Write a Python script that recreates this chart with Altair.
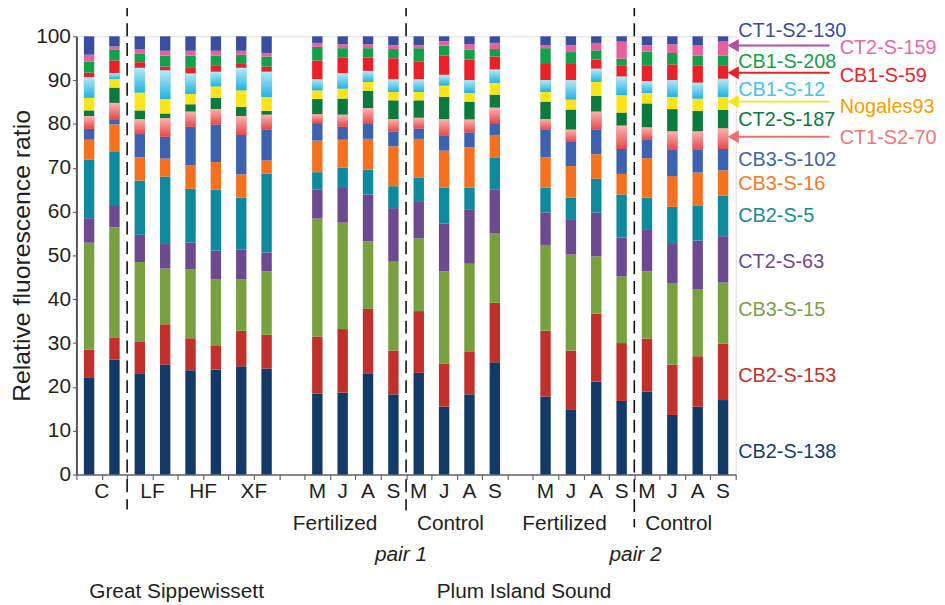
import altair as alt
import pandas as pd

# ---------------- data ----------------
taxa = ["CB2-S-138", "CB2-S-153", "CB3-S-15", "CT2-S-63", "CB2-S-5", "CB3-S-16",
        "CB3-S-102", "CT1-S2-70", "CT2-S-187", "Nogales93", "CB1-S-12", "CB1-S-59",
        "CB1-S-208", "CT2-S-159", "CT1-S2-130"]
colors = ["#133a66", "#c0312c", "#77a03e", "#6d4a8f", "#0f899d", "#f3711f",
          "#3c62b0", "#f07070", "#0b7a3c", "#fbe51a", "#3fc0e8", "#ea2128",
          "#12a04b", "#e9609f", "#3a4ea1"]
label_colors = ["#15406c", "#c0312c", "#79a043", "#6e4a91", "#138a9c", "#f47a2c",
                "#3e63ae", "#f07878", "#0b7a3c", "#f5a000", "#45c3ea", "#e9242b",
                "#16a04a", "#ea69a8", "#3b4da0"]

bar_ids = ["GS-C-1", "GS-C-2", "GS-LF-1", "GS-LF-2", "GS-HF-1", "GS-HF-2", "GS-XF-1", "GS-XF-2",
           "P1-F-M", "P1-F-J", "P1-F-A", "P1-F-S", "P1-C-M", "P1-C-J", "P1-C-A", "P1-C-S",
           "P2-F-M", "P2-F-J", "P2-F-A", "P2-F-S", "P2-C-M", "P2-C-J", "P2-C-A", "P2-C-S"]
x_order = bar_ids[:8] + ["gap-1"] + bar_ids[8:16] + ["gap-2"] + bar_ids[16:]

CB2_S_138 = [22.2, 26.2, 23.1, 25.1, 23.8, 24.0, 24.7, 24.2, 18.5, 18.7, 23.1, 18.3, 23.2, 15.5, 18.3, 25.6, 17.8, 14.9, 21.2, 16.8, 18.9, 13.6, 15.5, 17.0]
CB2_S_153 = [6.3, 5.1, 7.3, 9.2, 7.3, 5.5, 8.1, 7.7, 13.0, 14.5, 14.7, 10.0, 14.1, 9.8, 9.8, 13.6, 15.0, 13.4, 15.5, 13.2, 12.1, 11.5, 11.5, 12.9]
CB3_S_15 = [24.4, 25.1, 18.1, 12.7, 15.7, 15.1, 11.8, 14.5, 26.9, 24.3, 15.4, 20.3, 16.6, 21.1, 20.0, 15.9, 19.6, 21.9, 13.1, 15.2, 15.4, 18.6, 15.2, 13.9]
CT2_S_63 = [5.6, 5.1, 6.2, 5.6, 6.1, 6.5, 6.7, 4.3, 6.7, 8.1, 10.7, 12.2, 8.5, 10.9, 12.3, 10.0, 7.4, 7.9, 10.0, 8.9, 9.6, 8.9, 11.2, 10.6]
CB2_S_5 = [13.4, 12.1, 12.4, 15.4, 12.3, 13.9, 11.9, 18.0, 3.9, 4.4, 5.7, 5.0, 5.3, 8.2, 5.1, 7.3, 5.7, 5.1, 7.7, 9.8, 7.2, 8.5, 7.9, 9.2]
CB3_S_16 = [4.5, 6.3, 5.3, 4.1, 5.4, 6.3, 5.3, 3.0, 7.2, 6.4, 7.0, 9.1, 8.9, 8.4, 9.2, 5.1, 6.9, 7.2, 5.6, 4.7, 9.0, 7.0, 7.6, 5.8]
CB3_S_102 = [2.5, 1.2, 5.3, 5.0, 8.8, 8.6, 9.0, 7.1, 4.0, 3.0, 3.4, 3.4, 2.4, 3.4, 3.4, 2.7, 6.3, 5.5, 5.6, 5.7, 4.2, 6.0, 5.2, 4.9]
CT1_S2_70 = [2.9, 3.7, 3.4, 4.2, 3.4, 3.5, 4.3, 3.3, 2.0, 2.7, 3.6, 2.8, 2.4, 3.8, 2.9, 3.5, 2.4, 2.8, 4.1, 5.3, 2.8, 4.2, 4.2, 4.7]
CT2_S_187 = [1.3, 3.5, 2.0, 1.1, 1.7, 2.6, 2.1, 0.9, 3.5, 3.7, 4.0, 4.3, 4.0, 5.1, 4.1, 3.0, 4.0, 4.6, 3.6, 3.0, 5.5, 5.1, 4.7, 4.2]
Nogales93 = [2.9, 2.0, 4.1, 3.3, 2.4, 2.6, 3.8, 3.2, 2.0, 2.3, 2.0, 1.9, 1.9, 2.6, 2.0, 2.7, 2.2, 2.3, 3.2, 4.0, 2.4, 2.8, 2.8, 3.0]
CB1_S_12 = [4.7, 1.3, 5.6, 6.5, 4.6, 3.3, 5.1, 5.7, 2.5, 3.5, 2.5, 2.9, 2.9, 2.4, 2.9, 3.0, 2.7, 4.4, 3.0, 4.2, 2.7, 3.8, 3.6, 4.1]
CB1_S_59 = [1.0, 2.9, 1.3, 0.9, 1.3, 1.5, 0.9, 1.2, 4.3, 3.5, 3.1, 4.8, 4.1, 4.4, 4.7, 3.0, 3.9, 3.7, 2.1, 2.6, 3.6, 3.6, 4.0, 3.1]
CB1_S_208 = [2.5, 2.4, 1.9, 2.5, 2.8, 2.2, 2.1, 2.3, 3.1, 2.2, 2.1, 2.1, 3.0, 2.3, 2.3, 1.7, 3.4, 2.7, 2.1, 1.5, 3.1, 2.6, 2.2, 2.2]
CT2_S_159 = [1.6, 0.8, 1.0, 1.1, 1.1, 1.1, 0.9, 0.8, 0.9, 0.9, 0.9, 0.9, 0.7, 1.0, 1.2, 1.4, 0.7, 1.6, 1.7, 3.9, 1.5, 2.0, 2.3, 3.2]
CT1_S2_130 = [4.2, 2.3, 3.0, 3.3, 3.3, 3.3, 3.3, 3.8, 1.5, 1.8, 1.8, 2.0, 2.0, 1.1, 1.8, 1.5, 2.0, 2.0, 1.5, 1.2, 2.0, 1.8, 2.1, 1.2]

series = [CB2_S_138, CB2_S_153, CB3_S_15, CT2_S_63, CB2_S_5, CB3_S_16, CB3_S_102,
          CT1_S2_70, CT2_S_187, Nogales93, CB1_S_12, CB1_S_59, CB1_S_208, CT2_S_159, CT1_S2_130]

# tick labels under bars
tick_text = ["C", "LF", "HF", "XF", "M", "J", "A", "S", "M", "J", "A", "S",
             "M", "J", "A", "S", "M", "J", "A", "S"]
tick_pos = [1.0, 3.0, 5.0, 7.0] + [x_order.index(b) + 0.5 for b in bar_ids[8:]]
group_text = ["Fertilized", "Control", "Fertilized", "Control"]
group_pos = [10.2, 14.75, 19.25, 23.75]
pair_text = ["pair 1", "pair 2"]
pair_pos = [12.8, 22.05]
site_text = ["Great Sippewissett", "Plum Island Sound"]
site_pos = [3.95, 17.65]

# right-hand key
key_y = [5.2, 22.4, 37.6, 48.4, 59.0, 66.4, 71.7, 76.8, 80.9, 83.9, 87.7, 91.0, 94.1, 97.3, 101.3]
arrow_taxa = ["CT2-S-159", "CB1-S-59", "Nogales93", "CT1-S2-70"]
arrow_y = [97.9, 91.7, 85.1, 77.1]
arrow_colors = ["#b54f9f", "#e8202a", "#f3e516", "#f07070"]

divider_x = [2, 13, 22]
divider_bottom = [-8, -8.2, -12]

# ---------------- tables ----------------
rows = []
for i, (t, vals) in enumerate(zip(taxa, series)):
    for b, v in zip(bar_ids, vals):
        rows.append({"bar": b, "slot": x_order.index(b) + 0.5, "taxon": t, "order": i, "value": v})
df = pd.DataFrame(rows)

XS = alt.Scale(domain=[0, 26], nice=False, zero=False, padding=0)
YS = alt.Scale(domain=[0, 100], nice=False, zero=False, padding=0)
FONT = "Liberation Sans"
INK = "#231f20"

XAX = alt.Axis(values=list(range(27)), labels=False, title=None,
               tickSize=5, tickColor="#666", tickWidth=1.2,
               domainColor="#666", domainWidth=1.5, grid=False)
YAX = alt.Axis(values=list(range(0, 101, 10)), title="Relative fluorescence ratio",
               titleFontSize=25, titleFont=FONT, titleFontWeight="normal",
               titleColor=INK, titlePadding=1,
               labelFontSize=21, labelFont=FONT, labelColor=INK,
               labelPadding=2, tickSize=4, tickColor="#555",
               domainColor="#555", domainWidth=2, grid=False)


def X(field):
    return alt.X(field, scale=XS, axis=XAX)


def Y(field):
    return alt.Y(field, scale=YS, axis=YAX)


base = alt.Chart(df).transform_stack(
    stack="value", groupby=["bar"], as_=["y0", "y1"],
    sort=[alt.SortField("order", order="ascending")]
)

bars = base.mark_bar(width=10.5, orient="vertical").encode(
    x=X("slot:Q"), y=Y("y0:Q"), y2="y1:Q",
    color=alt.Color("taxon:N", scale=alt.Scale(domain=taxa, range=colors), legend=None),
)


def grad_layer(name, top, bottom):
    return base.transform_filter(alt.datum.taxon == name).mark_bar(
        width=10.5, orient="vertical",
        color=alt.Gradient(gradient="linear",
                           stops=[alt.GradientStop(color=top, offset=0),
                                  alt.GradientStop(color=bottom, offset=1)],
                           x1=0, x2=0, y1=0, y2=1)
    ).encode(x=X("slot:Q"), y=Y("y0:Q"), y2="y1:Q")


salmon = grad_layer("CT1-S2-70", "#f8b4b0", "#e8484a")
cyan = grad_layer("CB1-S-12", "#b6e9f7", "#22b2e2")

div_df = pd.DataFrame({"x": divider_x, "top": [107.5] * 3, "bottom": divider_bottom})
dividers = alt.Chart(div_df).mark_rule(color="#111", strokeWidth=1.6, strokeDash=[13, 7]).encode(
    x=X("x:Q"), y=Y("top:Q"), y2="bottom:Q")


def text_layer(texts, xs, yval, size=21, italic=False, color=INK):
    d = pd.DataFrame({"t": texts, "x": xs, "y": [yval] * len(texts)})
    return alt.Chart(d).mark_text(font=FONT, fontSize=size, color=color, baseline="middle",
                                  align="center", fontStyle="italic" if italic else "normal").encode(
        x=X("x:Q"), y=Y("y:Q"), text="t:N")


ticks_t = text_layer(tick_text, tick_pos, -4.1)
groups_t = text_layer(group_text, group_pos, -11.3)
pairs_t = text_layer(pair_text, pair_pos, -18.3, italic=True)
sites_t = text_layer(site_text, site_pos, -26.7)

key_df = pd.DataFrame({"taxon": taxa, "y": key_y, "c": label_colors,
                       "x": [30.1 if t in arrow_taxa else 26.1 for t in taxa]})
key = alt.Chart(key_df).mark_text(font=FONT, fontSize=20, align="left", baseline="middle").encode(
    x=X("x:Q"), y=Y("y:Q"), text="taxon:N", color=alt.Color("c:N", scale=None))

arr_df = pd.DataFrame({"taxon": arrow_taxa, "y": arrow_y, "c": arrow_colors,
                       "x1": [26.1] * 4, "x2": [29.7] * 4, "hx": [25.9] * 4})
arrow_lines = alt.Chart(arr_df).mark_rule(strokeWidth=2).encode(
    x=X("x1:Q"), x2="x2:Q", y=Y("y:Q"), color=alt.Color("c:N", scale=None))
arrow_heads = alt.Chart(arr_df).mark_point(shape="triangle-left", filled=True, size=170, opacity=1).encode(
    x=X("hx:Q"), y=Y("y:Q"), color=alt.Color("c:N", scale=None))

chart = alt.layer(bars, salmon, cyan, dividers, ticks_t, groups_t, pairs_t, sites_t,
                  key, arrow_lines, arrow_heads).properties(
    width=665, height=442,
    autosize=alt.AutoSizeParams(type="none"),
    padding={"left": 69, "top": 26, "right": 203, "bottom": 129},
).configure_view(strokeWidth=0).configure(background="white")

chart.save("out.html", embed_options={"renderer": "svg", "actions": False})
